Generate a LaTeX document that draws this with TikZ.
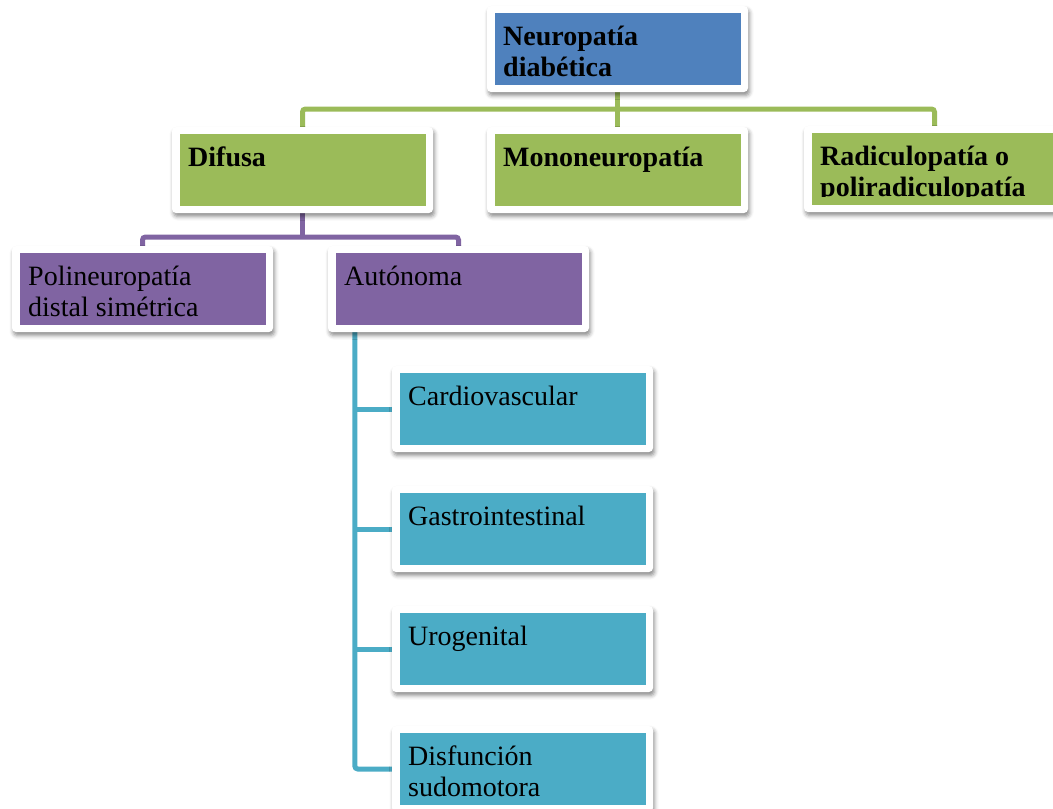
\documentclass[tikz,border=0pt]{standalone}
\usepackage{fontspec}
\setmainfont{Liberation Serif}
\usetikzlibrary{shadows.blur,backgrounds}

\definecolor{hdblue}{HTML}{4F81BD}
\definecolor{lvgreen}{HTML}{9BBB59}
\definecolor{lvpurple}{HTML}{8064A2}
\definecolor{lvaqua}{HTML}{4BACC6}

\tikzset{
  boxframe/.style={fill=white, rounded corners=4pt, minimum width=261pt,
    minimum height=86pt, inner sep=0pt,
    blur shadow={shadow xshift=1.5pt, shadow yshift=-3.5pt,
      shadow blur radius=4pt, shadow opacity=45}},
  boxfill/.style={fill=#1, minimum width=246pt, minimum height=72pt,
    inner sep=0pt, anchor=north west},
  plaintext/.style={anchor=north west, inner sep=0pt, align=left,
    font=\fontsize{28}{31}\selectfont},
  boldtext/.style={plaintext, font=\fontsize{28}{31}\selectfont\bfseries},
  link/.style={line width=5pt, draw=#1, rounded corners=3pt},
}

% #1 name, #2/#3 top-left corner of the coloured panel, #4 colour,
% #5 text style, #6 text; the first baseline sits 32pt below the panel top
\newcommand\orgbox[6]{%
  \node[boxframe] (#1o) at (#2+122.5,#3+36) {};
  \node[boxfill=#4] (#1) at (#2,#3) {};
  \begin{scope}
    \clip (#2,#3) rectangle (#2+246,#3+63);
    \node[#5] (#1t) at (#2+8,#3+8) {\rule{0pt}{24pt}#6};
  \end{scope}
}

\begin{document}
\begin{tikzpicture}[x=1pt,y=-1pt]
  \useasboundingbox (0,0) rectangle (1053,809);
  \clip (0,0) rectangle (1053,809);

  % root and first level
  \orgbox{top}{495}{13}{hdblue}{boldtext}{Neuropatía\\diabética}
  \orgbox{dif}{180}{134}{lvgreen}{boldtext}{Difusa}
  \orgbox{mono}{495}{134}{lvgreen}{boldtext}{Mononeuropatía}
  \orgbox{rad}{812}{133}{lvgreen}{boldtext}{Radiculopatía o\\poliradiculopatía}

  % second level
  \orgbox{poli}{20}{253}{lvpurple}{plaintext}{Polineuropatía\\distal simétrica}
  \orgbox{auto}{336}{253}{lvpurple}{plaintext}{Autónoma}

  % autonomic forms
  \orgbox{card}{400}{373}{lvaqua}{plaintext}{Cardiovascular}
  \orgbox{gast}{400}{493}{lvaqua}{plaintext}{Gastrointestinal}
  \orgbox{uro}{400}{613}{lvaqua}{plaintext}{Urogenital}
  \orgbox{sudo}{400}{733}{lvaqua}{plaintext}{Disfunción\\sudomotora}

  \begin{scope}[on background layer]
    % green level
    \coordinate (gbar) at (topo.south |- 0,109);
    \draw[link=lvgreen] (topo.south) -- (monoo.north);
    \draw[link=lvgreen] (difo.north) |- (gbar) -| (rado.north);
    % purple level
    \coordinate (pbar) at (difo.south |- 0,237);
    \draw[link=lvpurple] (difo.south) -- (pbar);
    \draw[link=lvpurple] (polio.north) |- (pbar) -| (autoo.north);
    % aqua spine
    \coordinate (spine) at ([xshift=27pt]autoo.south west);
    \draw[link=lvaqua] (spine) |- (sudoo.west);
    \draw[link=lvaqua] (cardo.west) -- (cardo.west -| spine);
    \draw[link=lvaqua] (gasto.west) -- (gasto.west -| spine);
    \draw[link=lvaqua] (uroo.west) -- (uroo.west -| spine);
  \end{scope}
\end{tikzpicture}
\end{document}
